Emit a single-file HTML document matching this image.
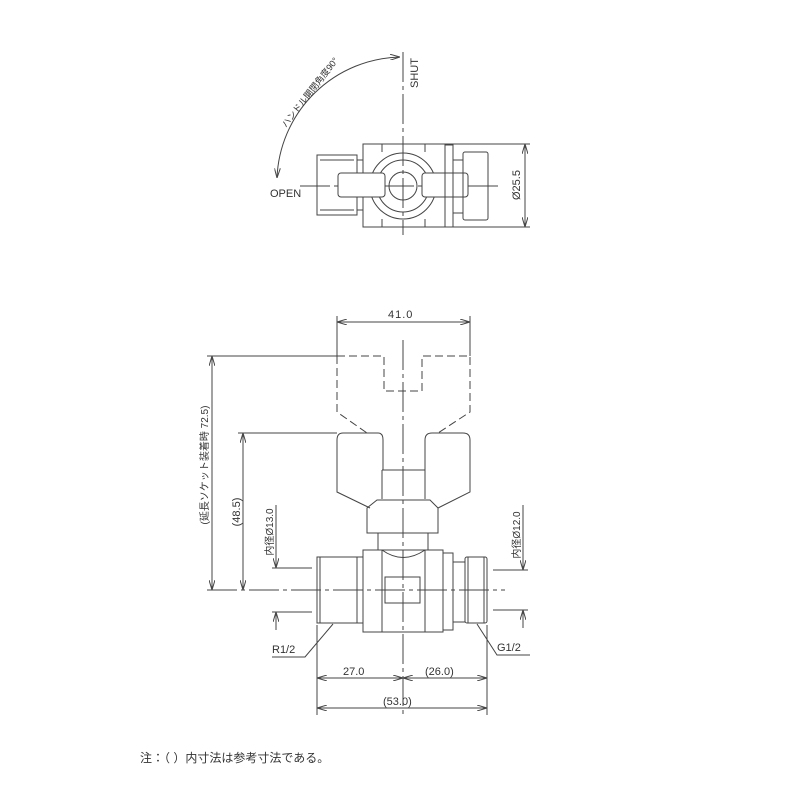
<!DOCTYPE html>
<html><head><meta charset="utf-8"><style>
html,body{margin:0;padding:0;background:#fff}
svg{display:block}
text{font-family:"Liberation Sans","Noto Sans CJK JP",sans-serif;fill:#333}
</style></head><body>
<svg width="800" height="800" viewBox="0 0 800 800" xmlns="http://www.w3.org/2000/svg">
<defs>
<marker id="a" viewBox="0 0 10 6" refX="10" refY="3" markerWidth="10" markerHeight="6" orient="auto-start-reverse" markerUnits="userSpaceOnUse"><path d="M0,0 L10,3 L0,6" fill="none" stroke="#444" stroke-width="1"/></marker>
</defs>
<g stroke="#444" stroke-width="1" fill="none">
<!-- TOP VIEW -->
<line x1="403" y1="52" x2="403" y2="235" stroke-dasharray="30,4,4,4"/>
<line x1="300" y1="186" x2="500" y2="186" stroke-dasharray="30,4,4,4"/>
<path d="M277,178 A126,126 0 0 1 400,57" marker-start="url(#a)" marker-end="url(#a)"/>
<rect x="317" y="155" width="40" height="60"/>
<line x1="320" y1="160" x2="354" y2="160"/><line x1="320" y1="210" x2="354" y2="210"/>
<rect x="357" y="160" width="6" height="50"/>
<rect x="363" y="144" width="82" height="83"/>
<line x1="382" y1="144" x2="382" y2="152"/><line x1="425" y1="144" x2="425" y2="152"/>
<line x1="382" y1="219" x2="382" y2="227"/><line x1="425" y1="219" x2="425" y2="227"/>
<circle cx="403" cy="186" r="33"/>
<circle cx="403" cy="186" r="26"/>
<circle cx="403" cy="186" r="14"/>
<rect x="338" y="173" width="47" height="24" rx="3" fill="#fff"/>
<rect x="422" y="173" width="46" height="24" rx="3" fill="#fff"/>
<rect x="445" y="145" width="8" height="82"/>
<rect x="453" y="160" width="10" height="53"/>
<rect x="463" y="152" width="25" height="68" rx="2"/>
<line x1="445" y1="144" x2="530" y2="144"/><line x1="445" y1="227" x2="530" y2="227"/>
<line x1="525" y1="144" x2="525" y2="227" marker-start="url(#a)" marker-end="url(#a)"/>

<!-- FRONT VIEW -->
<line x1="403" y1="340" x2="403" y2="715" stroke-dasharray="30,4,4,4"/>
<line x1="207" y1="590" x2="505" y2="590" stroke-dasharray="30,4,4,4"/>
<line x1="337" y1="316" x2="337" y2="356"/><line x1="470" y1="316" x2="470" y2="356"/>
<line x1="337" y1="322" x2="470" y2="322" marker-start="url(#a)" marker-end="url(#a)"/>
<path d="M337,356 H384 V391 H422 V356 H470 V412 L438,433 M337,356 V412 L367,433" stroke-dasharray="8,4"/>
<path d="M343,433 H378 Q383,433 383,440 V470 H425 V440 Q425,433 432,433 H463 Q470,433 470,440 V492 L438,508 M343,433 Q337,433 337,440 V492 L370,508"/>
<path d="M382,470 H425 V499 M382,470 V499"/>
<path d="M367,533 V508 L377,500 H430 L438,508 V533 Z"/>
<rect x="378" y="533" width="50" height="17"/>
<rect x="363" y="550" width="80" height="82"/>
<line x1="382" y1="550" x2="382" y2="632"/><line x1="425" y1="550" x2="425" y2="632"/>
<path d="M382,550 Q403,565 425,550"/>
<rect x="385" y="577" width="35" height="26"/>
<rect x="317" y="557" width="46" height="66"/>
<line x1="320" y1="557" x2="320" y2="623"/><line x1="357" y1="557" x2="357" y2="623"/>
<rect x="443" y="553" width="10" height="77"/>
<rect x="453" y="562" width="12" height="60"/>
<rect x="465" y="557" width="22" height="66" rx="2"/>
<line x1="468" y1="557" x2="468" y2="623"/><line x1="484" y1="557" x2="484" y2="623"/>
<!-- left dims -->
<line x1="207" y1="356" x2="337" y2="356"/>
<line x1="212" y1="356" x2="212" y2="590" marker-start="url(#a)" marker-end="url(#a)"/>
<line x1="238" y1="433" x2="337" y2="433"/>
<line x1="243" y1="433" x2="243" y2="590" marker-start="url(#a)" marker-end="url(#a)"/>
<line x1="272" y1="568" x2="312" y2="568"/><line x1="272" y1="612" x2="312" y2="612"/>
<line x1="276" y1="550" x2="276" y2="568" marker-end="url(#a)"/>
<line x1="276" y1="630" x2="276" y2="612" marker-end="url(#a)"/>
<line x1="276" y1="505" x2="276" y2="550"/>
<line x1="493" y1="570" x2="528" y2="570"/><line x1="493" y1="610" x2="528" y2="610"/>
<line x1="523" y1="552" x2="523" y2="570" marker-end="url(#a)"/>
<line x1="523" y1="628" x2="523" y2="610" marker-end="url(#a)"/>
<line x1="523" y1="505" x2="523" y2="552"/>
<!-- bottom dims -->
<line x1="317" y1="625" x2="317" y2="715"/><line x1="487" y1="625" x2="487" y2="715"/>
<line x1="317" y1="678" x2="403" y2="678" marker-start="url(#a)" marker-end="url(#a)"/>
<line x1="403" y1="678" x2="487" y2="678" marker-start="url(#a)" marker-end="url(#a)"/>
<line x1="317" y1="708" x2="487" y2="708" marker-start="url(#a)" marker-end="url(#a)"/>
<path d="M333,624 L305,657 H272" />
<path d="M477,624 L497,655 H530"/>
</g>
<g font-size="11">
<text transform="translate(418,88) rotate(-90)">SHUT</text>
<text x="270" y="197">OPEN</text>
<text transform="translate(286,128) rotate(-52)" font-size="9">ハンドル開閉角度90°</text>
<text transform="translate(520,200) rotate(-90)">Ø25.5</text>
<text x="388" y="318" letter-spacing="1">41.0</text>
<text transform="translate(208,465) rotate(-90)" font-size="10" text-anchor="middle">(延長ソケット装着時 72.5)</text>
<text transform="translate(240,512) rotate(-90)" text-anchor="middle">(48.5)</text>
<text transform="translate(273,532) rotate(-90)" font-size="10" text-anchor="middle">内径Ø13.0</text>
<text transform="translate(520,535) rotate(-90)" font-size="10" text-anchor="middle">内径Ø12.0</text>
<text x="343" y="675">27.0</text>
<text x="425" y="675">(26.0)</text>
<text x="383" y="705">(53.0)</text>
<text x="272" y="653">R1/2</text>
<text x="497" y="651">G1/2</text>
<text x="140" y="762" font-size="12">注：（ ）内寸法は参考寸法である。</text>
</g>
</svg>
</body></html>
